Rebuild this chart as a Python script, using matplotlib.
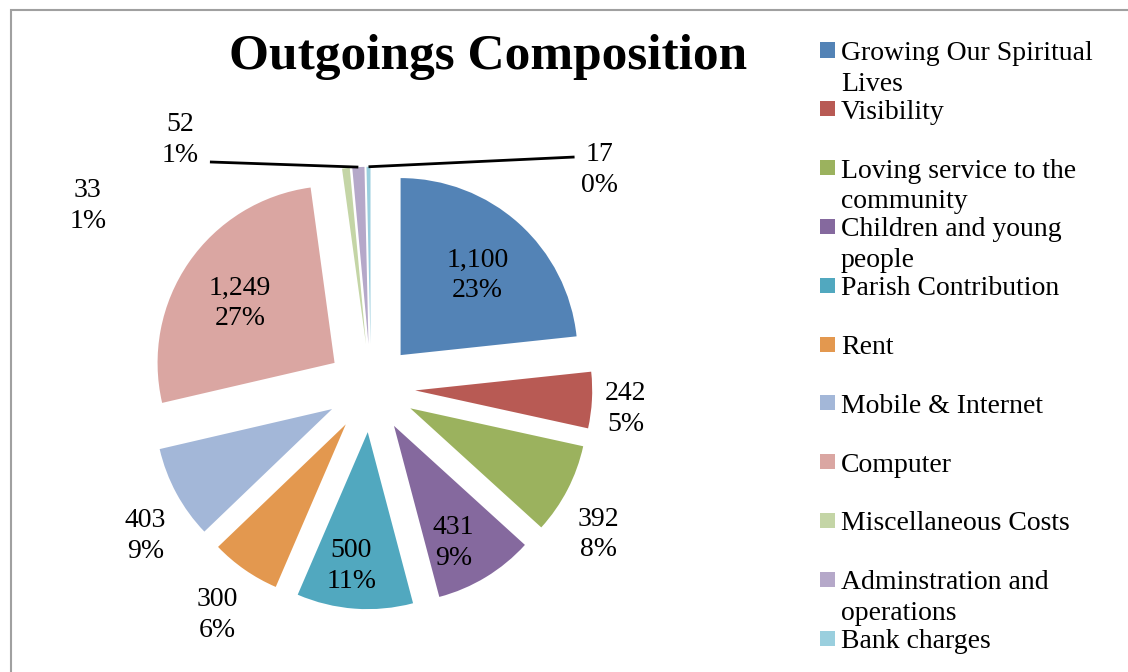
import textwrap
import numpy as np
import matplotlib
matplotlib.use("Agg")
import matplotlib.pyplot as plt
from matplotlib.patches import Rectangle

categories = ["Growing Our Spiritual Lives", "Visibility", "Loving service to the community",
              "Children and young people", "Parish Contribution", "Rent", "Mobile & Internet",
              "Computer", "Miscellaneous Costs", "Adminstration and operations", "Bank charges"]
values = [1100, 242, 392, 431, 500, 300, 403, 1249, 33, 52, 17]
percents = [23, 5, 8, 9, 11, 6, 9, 27, 1, 1, 0]  # as printed on the chart
colors = ["#5383B6", "#B85A54", "#9BB25E", "#85699E", "#51A8BF", "#E3984F",
          "#A3B7D8", "#DAA6A2", "#C4D5A6", "#B5A8C9", "#9ACFDE"]
inside = [True, False, False, True, True, False, False, True, False, False, False]

plt.rcParams["font.family"] = ["Liberation Serif", "DejaVu Serif"]

W, H = 1128, 672
R = 177.0          # pie radius in pixels
cx, cy = 371, 388  # pie centre in pixels
explode = 0.25

fig = plt.figure(figsize=(W / 100, H / 100), dpi=100)
ax = fig.add_axes([0, 0, 1, 1])

wedges, _ = ax.pie(values, colors=colors, startangle=90, counterclock=False,
                   explode=[explode] * len(values), radius=1.0, center=(0, 0))
ax.set_xlim(-cx / R, (W - cx) / R)
ax.set_ylim((cy - H) / R, cy / R)
ax.set_aspect("equal")
ax.axis("off")

total = sum(values)
cum = np.cumsum([0] + values[:-1])
mids = np.deg2rad(90 - (cum + np.array(values) / 2) / total * 360)

# label nudges in pixels (Excel places labels by their box, not their centre)
nudge = {0: (0, -6), 1: (-5, -7), 2: (-4, -27), 3: (0, -19), 4: (-8, -19),
         5: (-5, -13), 6: (3, -24), 7: (0, -6)}
# hand-placed labels for the thin slices at the top
manual = {8: (-1.60, 1.03), 9: (-1.08, 1.40), 10: (1.29, 1.23)}
leaders = {9: (-0.91, 1.277), 10: (1.15, 1.305)}

for i, v in enumerate(values):
    txt = f"{v:,}\n{percents[i]}%"
    a = mids[i]
    if i in manual:
        x, y = manual[i]
    else:
        r = explode + (0.65 if inside[i] else 1.22)
        dx, dy = nudge.get(i, (0, 0))
        x, y = r * np.cos(a) + dx / R, r * np.sin(a) + dy / R
    ax.text(x, y, txt, ha="center", va="center", fontsize=20, linespacing=1.3)
    if i in leaders:
        ox, oy = (1 + explode) * np.cos(a), (1 + explode) * np.sin(a)
        lx, ly = leaders[i]
        ax.plot([lx, ox], [ly, oy], color="black", lw=2, solid_capstyle="butt")

fig.text(488 / W, 1 - 57 / H, "Outgoings Composition", ha="center", va="center",
         fontsize=37, fontweight="bold")

# legend drawn by hand so wrapped labels keep the square on the first line
for i, (name, c) in enumerate(zip(categories, colors)):
    yc = 50 + i * 58.8
    fig.add_artist(Rectangle((820 / W, 1 - (yc + 7.5) / H), 15 / W, 15 / H,
                             transform=fig.transFigure, color=c, lw=0))
    fig.text(841 / W, 1 - (yc - 9) / H, textwrap.fill(name, 21), ha="left", va="top",
             fontsize=20, linespacing=1.3)

# chart area border
fig.add_artist(Rectangle((11 / W, -0.1), 1.2, 1 - 10 / H + 0.1, transform=fig.transFigure,
                         fill=False, edgecolor="#A0A0A0", lw=1.5))

fig.savefig("out.png", dpi=100)
